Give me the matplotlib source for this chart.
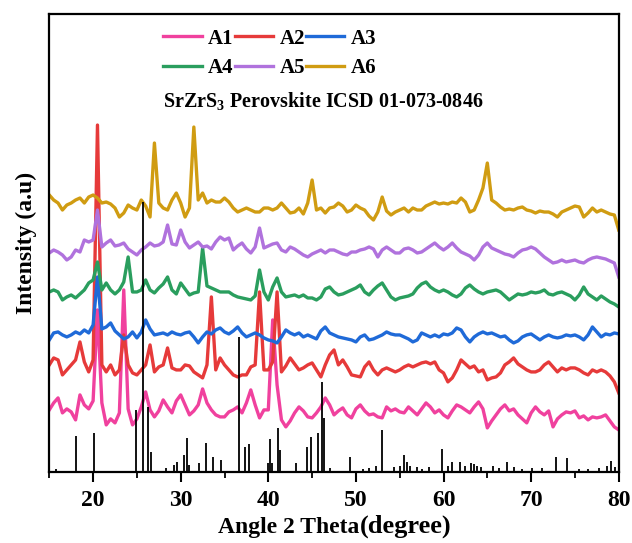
import numpy as np
import matplotlib.pyplot as plt

plt.rcParams['font.family'] = ['Liberation Serif', 'DejaVu Serif']
plt.rcParams['font.weight'] = 'bold'
plt.rcParams['mathtext.fontset'] = 'custom'
plt.rcParams['mathtext.rm'] = 'Liberation Serif:bold'
plt.rcParams['mathtext.bf'] = 'Liberation Serif:bold'

# 2 theta grid, 0.5 degree steps from 15 to 80
two_theta = np.arange(15.0, 80.01, 0.5)

labels = ['A1', 'A2', 'A3', 'A4', 'A5', 'A6']
colors = ['#f0419e', '#e63a3a', '#1f6ad8', '#2a9e5e', '#b072dd', '#d09c12']

# intensities (a.u.) of each sample relative to its own background
A1 = [5, 12, 17, 2, 6, 3, -5, 20, 10, 6,
      14, 105, 12, -10, -4, -8, 2, 125, 6, -10,
      -4, 8, 23, 5, -2, 4, 15, 8, 2, 14,
      20, 10, 0, 4, 10, 26, 12, 5, 0, -2,
      -2, 3, 5, 8, 2, 12, 25, 10, -3, 5,
      5, 95, 30, -5, -12, -6, 2, 8, 4, -2,
      -3, 2, 8, 17, 10, 0, 4, 7, 0, -3,
      6, 10, 4, 0, 1, -2, -3, 8, 4, 6,
      3, 2, 8, 4, 0, 6, 12, 8, 2, 5,
      0, -3, 4, 10, 8, 5, 2, 8, 13, 6,
      -13, -6, 0, 6, 10, 4, 6, 0, -4, -8,
      2, 8, 3, 0, 4, -12, -4, 0, 3, 2,
      4, -3, -1, -5, -2, -3, -2, 0, -6, -12,
      -15]
A2 = [5, 12, 10, -5, 0, 5, 10, 28, 8, -2,
      10, 245, 5, -2, 5, -5, 0, 35, 5, -3,
      -5, 0, 5, 25, -2, 3, 5, 22, 2, 0,
      0, 5, 4, -2, -5, -8, 5, 73, 0, 12,
      5, 0, -5, -7, -5, -5, 3, 5, 78, 0,
      0, 8, 78, -2, 4, 12, 6, 0, 2, 5,
      7, 0, -7, 5, 15, 20, 5, 10, 3, -5,
      -6, -7, 3, 8, 0, -5, 0, 2, 0, -2,
      0, 3, 5, 3, 5, 7, 8, 6, 8, 0,
      -3, -12, -8, 0, 10, 6, 2, 4, -2, 0,
      -10, -8, -7, -3, 5, 8, 12, 6, 3, 0,
      -2, -2, 0, 5, 8, 3, -2, 2, 0, 2,
      2, 0, -3, -5, 0, -2, 0, -2, -6, -12,
      -23]
A3 = [-3, 4, 5, 2, 0, 2, 5, 3, 7, 4,
      12, 60, 8, 10, 14, 6, 2, -2, 0, 5,
      -1, 5, 17, 8, 2, 3, 4, 2, 5, 3,
      2, 4, 5, 0, -6, 0, 5, 3, 7, 9,
      5, 3, 6, 10, 4, 0, 2, 4, 2, -1,
      -3, -4, -6, 0, 7, 4, 2, 4, 0, 2,
      0, -2, 6, 10, 4, 2, 0, -1, -2, -3,
      -5, 0, 2, -3, -2, 0, 2, 5, 3, 2,
      2, 0, -2, -5, -3, 4, 2, 0, 2, 0,
      3, 2, 4, 9, 7, 0, -5, 0, 3, 5,
      3, 4, 2, 0, 1, -3, -6, -4, 0, 2,
      3, 0, -3, 0, 2, 0, -1, 0, 2, 1,
      2, 0, -3, 2, 10, 5, 0, 3, 2, 4,
      3]
A4 = [0, 2, 0, -8, -5, -3, -6, -2, 2, 9,
      12, 30, 2, 9, 2, -2, 2, 10, 35, 0,
      0, 2, 12, 2, -1, 4, 8, 15, 2, -2,
      9, 3, -3, -1, 0, 44, 6, 4, 2, 0,
      0, 0, -3, -5, -6, -7, -8, -4, 22, 0,
      -8, 5, 14, 0, -5, -4, -3, -5, -3, -6,
      -6, -8, -5, 3, 5, 0, -3, -2, 0, 2,
      4, 7, 0, -3, 2, 6, 9, 2, -5, -8,
      -6, -5, -4, -2, 4, 8, 10, 5, 2, 0,
      2, 0, -3, -5, -2, 4, 7, 3, 0, -2,
      0, 1, 2, 0, -4, -8, -5, -2, -3, -2,
      0, -1, 0, 2, -2, -3, -1, 0, -2, -4,
      -8, -3, 5, -2, -5, -8, -4, -7, -10, -12,
      -15]
A5 = [-1, 2, 0, -3, -8, -5, 2, 0, 12, 10,
      12, 42, 5, 9, 12, 6, 7, 9, 3, 0,
      -3, 2, 5, 9, 6, 7, 10, 27, 8, 7,
      22, 10, 4, 7, 10, 5, 6, 3, 10, 15,
      12, 14, 2, 6, 9, 3, -1, 5, 24, 4,
      6, 8, 9, 2, 0, 5, 3, 0, -3, -5,
      -2, 0, 2, -1, 2, 2, 0, -2, -3, 0,
      0, 2, 3, 5, 3, -5, 2, 5, 2, -1,
      -1, 3, 4, 2, -1, 0, 3, 6, 9, 5,
      2, 5, 9, 4, 0, -2, -4, -8, -3, 5,
      9, 4, 2, 0, -2, -3, -5, -1, 2, 3,
      5, 3, -1, -5, -8, -11, -10, -8, -10, -9,
      -8, -10, -11, -8, -6, -5, -6, -7, -9, -11,
      -25]
A6 = [13, 8, 5, -2, 3, 5, 8, 10, 5, 11,
      13, 10, 5, 6, 4, 0, -9, -5, 3, 0,
      -2, 8, 2, -9, 65, 5, 0, -2, 8, 15,
      5, -9, 0, 81, 8, 15, 5, 8, 6, 6,
      10, 6, 0, -4, -2, 0, -2, -4, -4, 0,
      0, -2, 0, 5, 0, -5, -4, 0, -6, 5,
      28, -2, 0, -5, 0, 1, 5, 2, -4, -2,
      3, 0, -2, -8, -12, -4, 11, -3, -7, -4,
      -2, 0, -4, 0, -2, -2, 2, 4, 6, 4,
      5, 4, 6, 5, 10, 6, -4, -2, 8, 20,
      45, 8, 5, 1, -2, -1, -2, 0, 1, -2,
      -3, -5, -3, -4, -4, -6, -9, -4, -2, 0,
      2, 1, -9, -5, 0, -4, -2, -4, -6, -7,
      -22]
samples = [A1, A2, A3, A4, A5, A6]
offsets = [57, 102, 135, 180, 220, 264]

# SrZrS3 reference pattern (ICSD 01-073-0846): positions and intensities
ref_pos = [15.8, 18.0, 20.1, 24.9, 25.7, 26.3, 26.6, 28.3, 29.2, 29.6,
           30.4, 30.7, 31.0, 32.1, 32.9, 33.7, 34.6, 36.7, 37.3, 37.8,
           40.0, 40.2, 40.4, 41.1, 41.3, 43.2, 44.4, 44.9, 45.7, 46.1,
           46.4, 47.0, 49.3, 50.8, 51.5, 52.3, 53.0, 54.3, 55.0, 55.5,
           55.8, 56.2, 57.0, 57.6, 58.3, 59.8, 60.5, 61.0, 61.9, 62.5,
           63.1, 63.5, 63.8, 64.3, 65.7, 66.3, 67.2, 68.0, 69.0, 70.1,
           71.2, 72.8, 74.1, 75.5, 76.5, 77.8, 78.7, 79.1, 79.6]
ref_int = [3, 36, 39, 62, 270, 65, 20, 4, 7, 10,
           17, 34, 7, 9, 29, 15, 12, 135, 25, 28,
           9, 33, 9, 44, 22, 9, 25, 35, 39, 90,
           54, 4, 15, 3, 4, 6, 42, 5, 6, 17,
           10, 6, 5, 3, 5, 23, 6, 10, 10, 6,
           9, 8, 6, 5, 6, 4, 10, 5, 3, 4,
           4, 15, 14, 3, 3, 4, 6, 11, 5]

dpi = 100
fig = plt.figure(figsize=(632 / dpi, 543 / dpi), dpi=dpi)
ax = fig.add_axes([0.078, 0.131, 0.901, 0.843])

lines = []
for y, off, c, lab in zip(samples, offsets, colors, labels):
    ln, = ax.plot(two_theta, np.array(y) + off, color=c, lw=2.4, label=lab,
                  zorder=2)
    lines.append(ln)

ax.vlines(ref_pos, 0, ref_int, color='black', lw=1.3, zorder=3)

ax.set_xlim(15, 80)
ax.set_ylim(0, 458)
ax.set_yticks([])
ax.set_xticks(range(20, 81, 10))
ax.set_xticks(range(15, 80, 10), minor=True)
ax.tick_params(axis='x', which='major', direction='out', length=7, width=1.5,
               labelsize=17, pad=6)
ax.tick_params(axis='x', which='minor', direction='out', length=4, width=1.3)
for s in ax.spines.values():
    s.set_linewidth(1.6)

ax.set_ylabel('Intensity (a.u)', fontsize=17, fontweight='bold', labelpad=9)

# x label: "(degree)" set a little larger than the rest
xl = fig.text(0.345, 0.019, 'Angle 2 Theta', fontsize=17, fontweight='bold',
              ha='left', va='baseline')
fig.canvas.draw()
ax.annotate('(degree)', xy=(1, 0), xycoords=xl, xytext=(0, 0),
            textcoords='offset points', fontsize=19, fontweight='bold',
            ha='left', va='bottom')

# legend filled row by row: A1 A2 A3 / A4 A5 A6
order = [0, 3, 1, 4, 2, 5]
leg = ax.legend([lines[i] for i in order], [labels[i] for i in order],
                ncol=3, loc='upper left', bbox_to_anchor=(0.2, 0.968),
                frameon=False, fontsize=15, handlelength=1.85,
                handletextpad=0.3, columnspacing=0.05, labelspacing=0.45,
                borderaxespad=0, borderpad=0)
for t in leg.get_texts():
    t.set_fontweight('bold')

ax.text(0.2, 0.808, r'SrZrS$_3$ Perovskite ICSD 01-073-0846',
        transform=ax.transAxes, fontsize=14.5, fontweight='bold',
        va='center')

fig.savefig('out.png', dpi=dpi)
